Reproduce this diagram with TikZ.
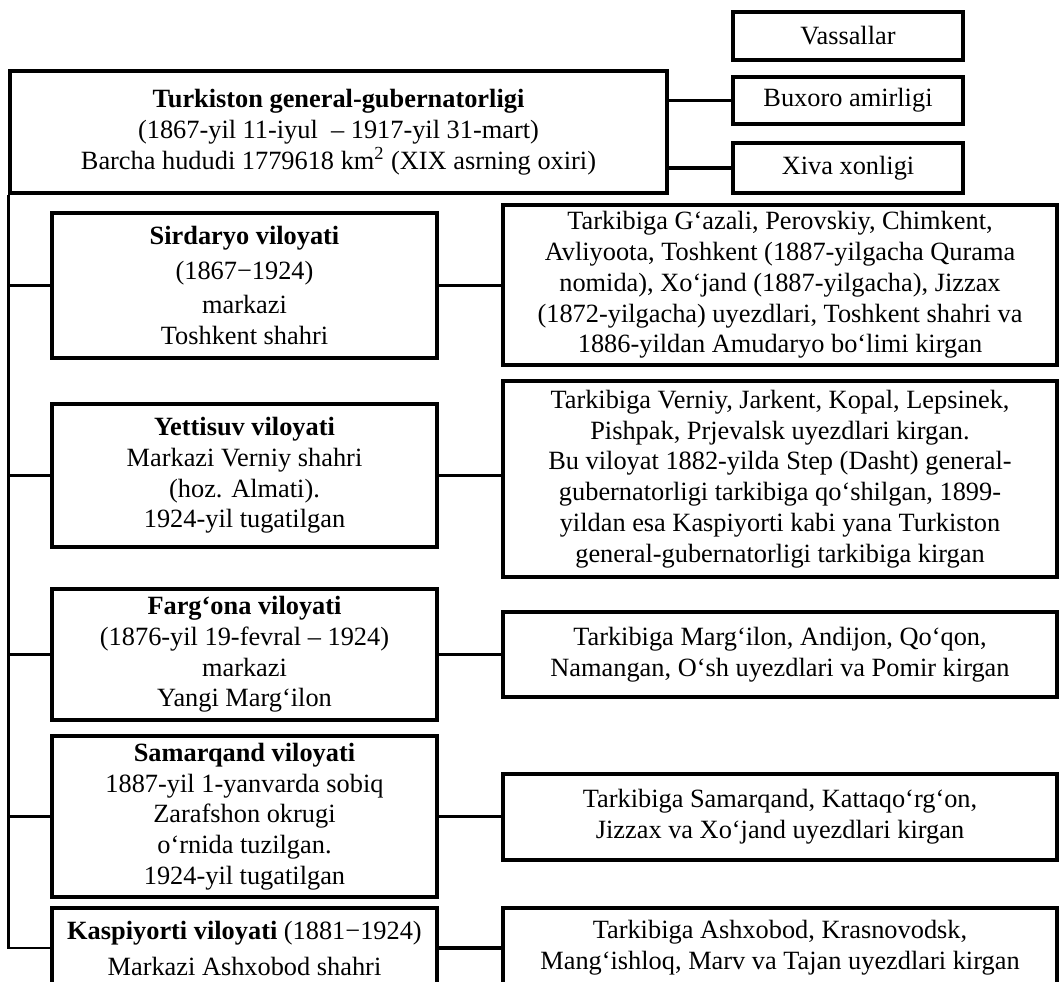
\documentclass[tikz,border=0pt]{standalone}
\usepackage{fontspec}
\setmainfont{Liberation Serif}
\begin{document}
\begin{tikzpicture}[x=0.02cm, y=-0.02cm,
    box/.style={draw, line width=2pt, align=center, inner sep=0pt, font=\fontsize{15}{17.5}\selectfont},
    link/.style={line width=2pt},
    trunk/.style={line width=1.5pt}]
    \useasboundingbox (0,0) rectangle (1059,982);
    \clip (0,0) rectangle (1059,982);

    % Head box and vassals
    \node[box, minimum width=13.14cm, minimum height=2.44cm] (gov) at (338.5,132) {\textbf{Turkiston general-gubernatorligi}\\(1867-yil 11-iyul~ – 1917-yil 31-mart)\\Barcha hududi 1779618 km\textsuperscript{2} (XIX asrning oxiri)};
    \node[box, minimum width=4.6cm, minimum height=0.96cm] (vassal) at (848,36) {Vassallar};
    \node[box, minimum width=4.6cm, minimum height=0.94cm] (buxoro) at (848,100.5) {Buxoro amirligi};
    \node[box, minimum width=4.6cm, minimum height=1.0cm] (xiva) at (848,168) {Xiva xonligi};

    % Provinces (left column)
    \node[box, minimum width=7.7cm, minimum height=2.9cm] (sirdaryo) at (244.5,285.5) {\textbf{Sirdaryo viloyati}\\[2pt](1867−1924)\\[2pt]markazi\\Toshkent shahri};
    \node[box, minimum width=7.7cm, minimum height=2.86cm] (yettisuv) at (244.5,475.5) {\textbf{Yettisuv viloyati}\\Markazi Verniy shahri\\(hoz. Almati).\\1924-yil tugatilgan};
    \node[box, minimum width=7.7cm, minimum height=2.62cm] (fargona) at (244.5,654.5) {\textbf{Farg‘ona viloyati}\\(1876-yil 19-fevral – 1924)\\markazi\\Yangi Marg‘ilon};
    \node[box, minimum width=7.7cm, minimum height=3.22cm] (samarqand) at (244.5,816.5) {\textbf{Samarqand viloyati}\\1887-yil 1-yanvarda sobiq\\Zarafshon okrugi\\o‘rnida tuzilgan.\\1924-yil tugatilgan};
    \node[box, minimum width=7.7cm, minimum height=1.6cm] (kaspiy) at (244.5,948) {\textbf{Kaspiyorti viloyati} (1881−1924)\\[3pt]Markazi Ashxobod shahri};

    % Their parts (right column)
    \node[box, minimum width=11.08cm, minimum height=3.2cm] (sirdaryoinfo) at (780,285) {Tarkibiga G‘azali, Perovskiy, Chimkent,\\Avliyoota, Toshkent (1887-yilgacha Qurama\\nomida), Xo‘jand (1887-yilgacha), Jizzax\\(1872-yilgacha) uyezdlari, Toshkent shahri va\\1886-yildan Amudaryo bo‘limi kirgan};
    \node[box, minimum width=11.08cm, minimum height=3.92cm] (yettisuvinfo) at (780,479) {Tarkibiga Verniy, Jarkent, Kopal, Lepsinek,\\Pishpak, Prjevalsk uyezdlari kirgan.\\Bu viloyat 1882-yilda Step (Dasht) general-\\gubernatorligi tarkibiga qo‘shilgan, 1899-\\yildan esa Kaspiyorti kabi yana Turkiston\\general-gubernatorligi tarkibiga kirgan};
    \node[box, minimum width=11.08cm, minimum height=1.7cm] (fargonainfo) at (780,654.5) {Tarkibiga Marg‘ilon, Andijon, Qo‘qon,\\Namangan, O‘sh uyezdlari va Pomir kirgan};
    \node[box, minimum width=11.08cm, minimum height=1.72cm] (samarqandinfo) at (780,817) {Tarkibiga Samarqand, Kattaqo‘rg‘on,\\Jizzax va Xo‘jand uyezdlari kirgan};
    \node[box, minimum width=11.08cm, minimum height=1.6cm] (kaspiyinfo) at (780,948) {Tarkibiga Ashxobod, Krasnovodsk,\\Mang‘ishloq, Marv va Tajan uyezdlari kirgan};

    % Connectors
    \draw[link] (gov.east |- buxoro.west) -- (buxoro.west);
    \draw[link] (gov.east |- xiva.west) -- (xiva.west);
    \draw[trunk] (gov.south west) |- (kaspiy.west);
    \foreach \prov in {sirdaryo, yettisuv, fargona, samarqand}
        \draw[link] (gov.south west |- \prov.west) -- (\prov.west);
    \foreach \prov in {sirdaryo, yettisuv, fargona, samarqand, kaspiy}
        \draw[link] (\prov.east) -- (\prov.east -| \prov info.west);
\end{tikzpicture}
\end{document}
